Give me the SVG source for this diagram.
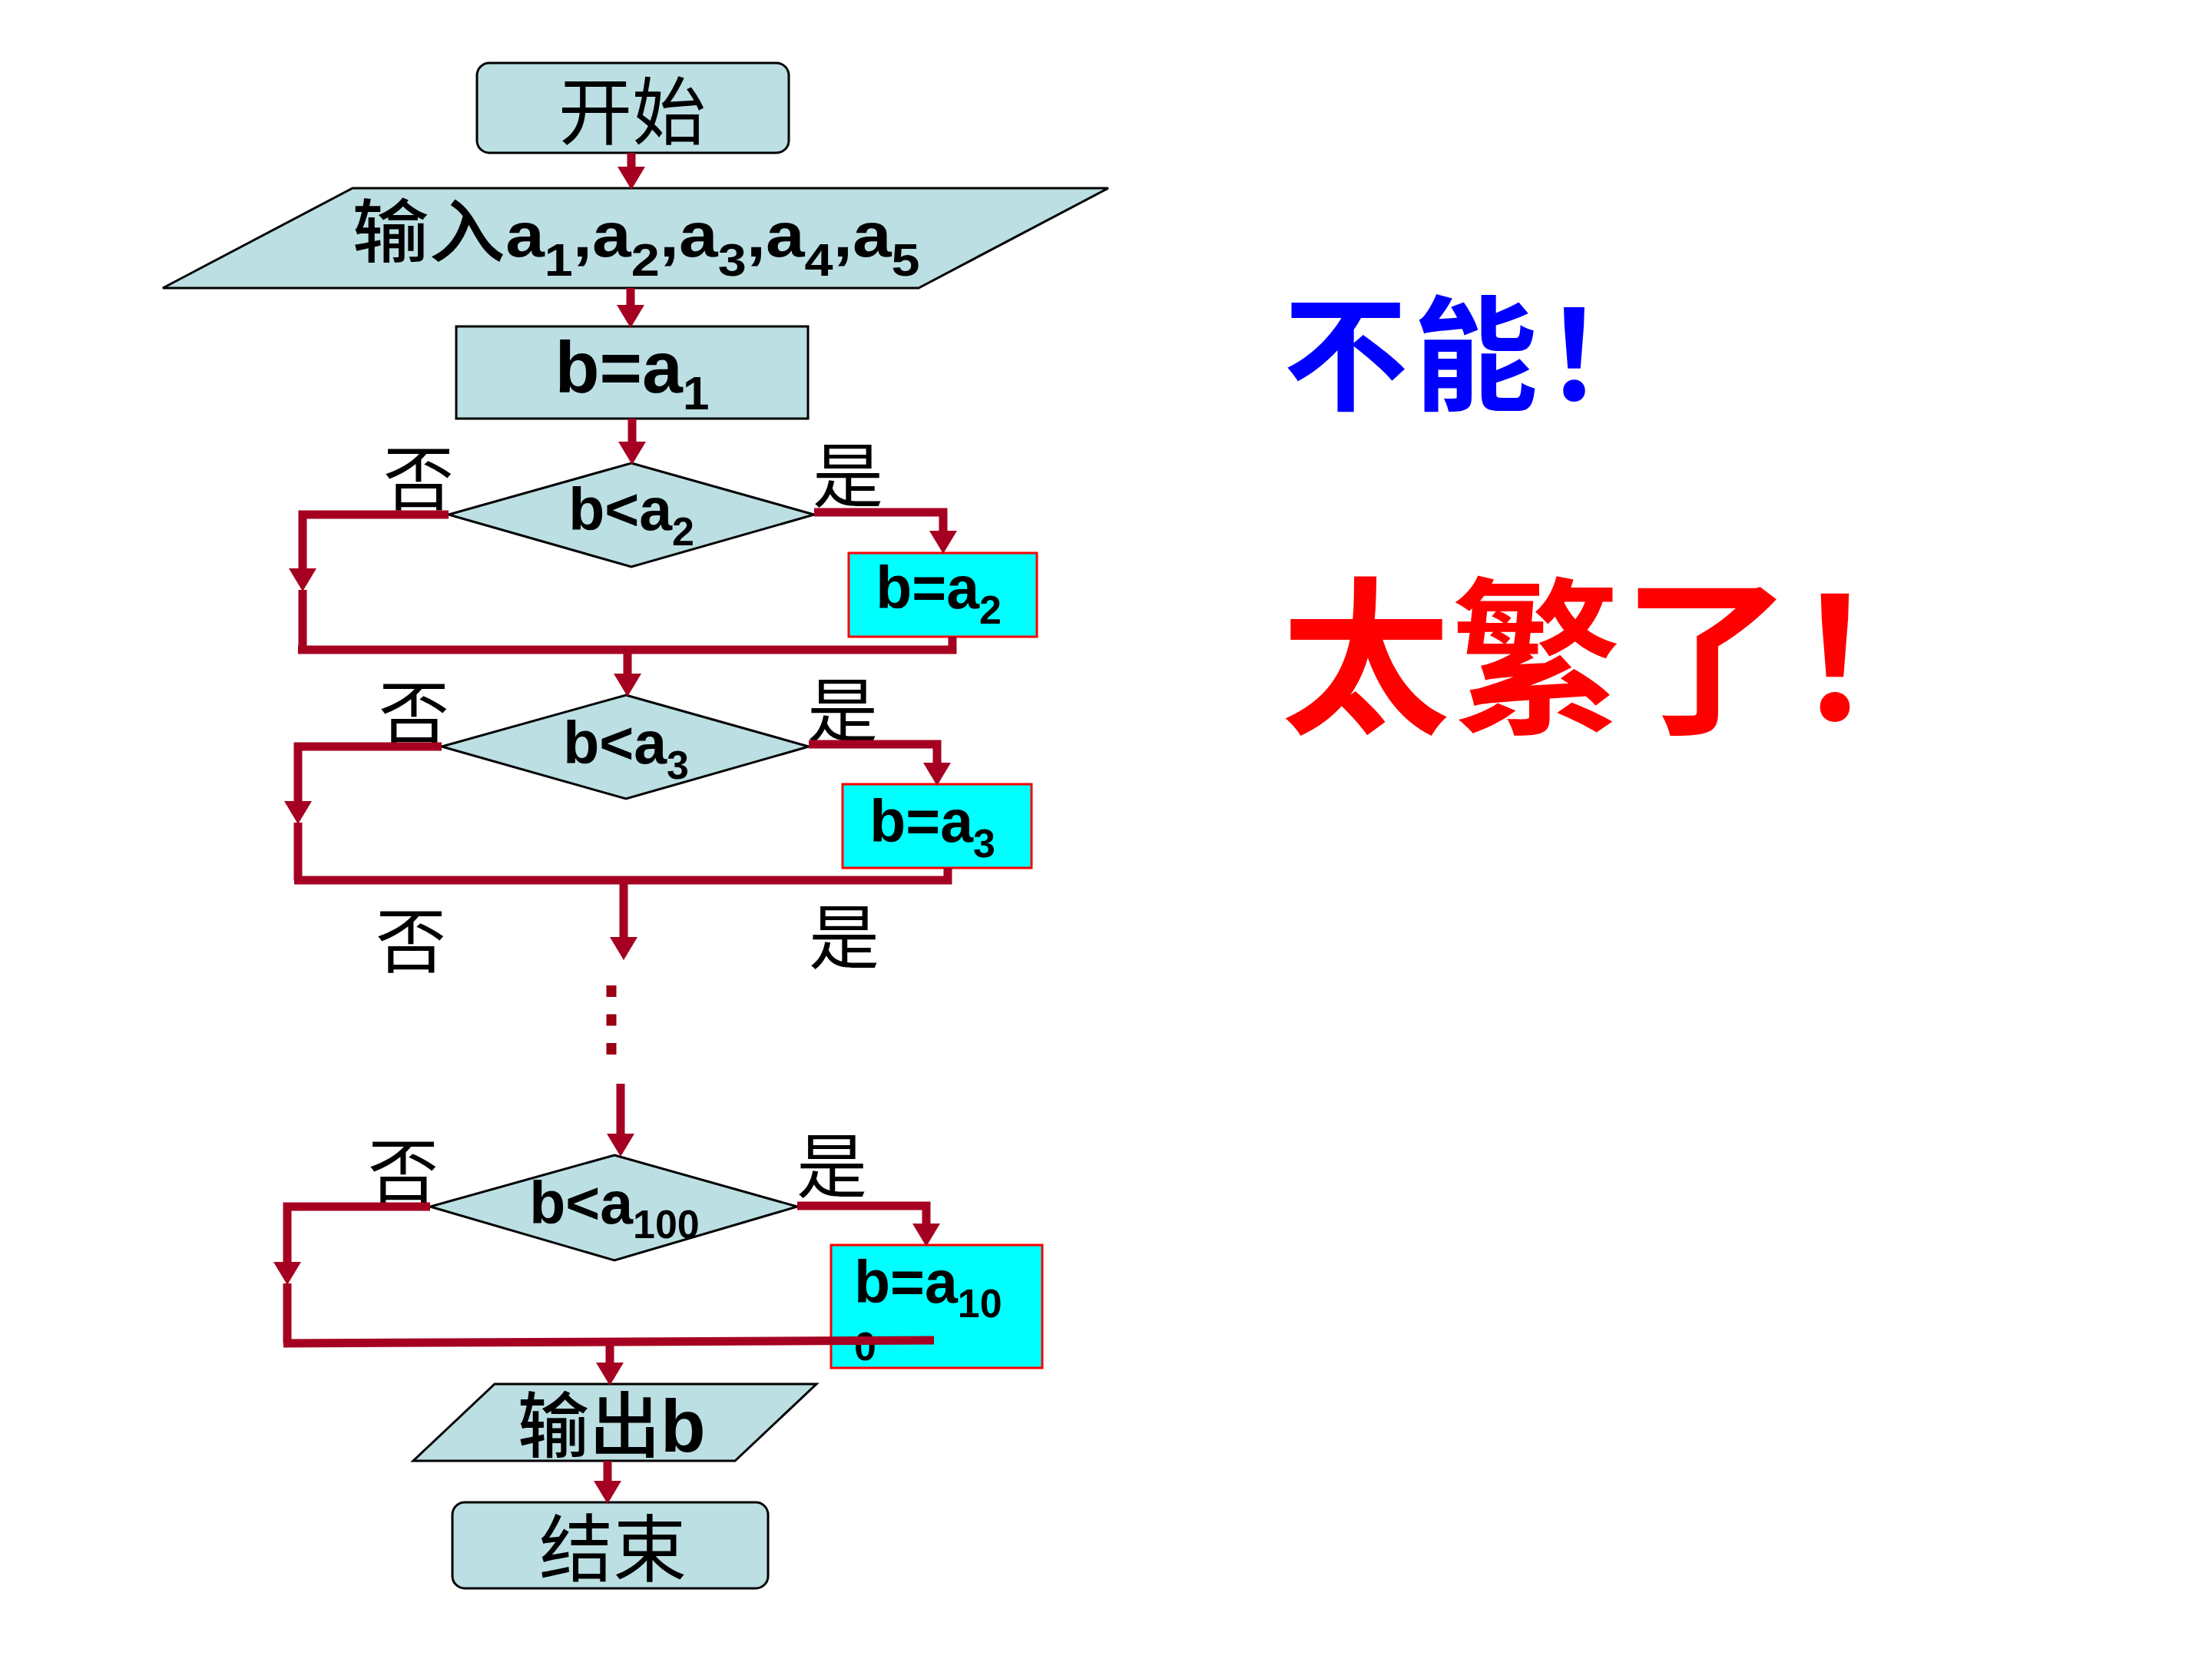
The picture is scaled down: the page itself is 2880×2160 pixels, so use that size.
<svg xmlns="http://www.w3.org/2000/svg" width="2880" height="2160" viewBox="0 0 2880 2160">
<defs>
<marker id="ah" markerUnits="userSpaceOnUse" markerWidth="30" markerHeight="36" viewBox="0 0 30 36" refX="0" refY="18" orient="auto"><path d="M0,0 L30,18 L0,36 Z" fill="#A50021"/></marker>
<style>
.nd{fill:#BBDFE3;stroke:#000;stroke-width:3}
.cy{fill:#00FFFF;stroke:#FF0000;stroke-width:3}
.cn{fill:none;stroke:#A50021;stroke-width:11;stroke-linejoin:miter}
.ar{marker-end:url(#ah)}
.lt{font-family:"Liberation Sans",Arial,sans-serif;font-weight:bold;fill:#000}
.zh{font-family:"Noto Sans CJK SC",sans-serif;fill:#000}
.lb{font-family:"Noto Sans CJK SC",sans-serif;font-size:92px;fill:#000;text-anchor:middle}
.dt{font-size:77px;text-anchor:middle}
.sb{font-size:52px}
</style>
</defs>
<rect width="2880" height="2160" fill="#fff"/>

<g id="start">
<rect class="nd" x="621" y="82" width="406" height="117" rx="16"/>
<text class="zh" x="823" y="180" font-size="96" text-anchor="middle">开始</text>
</g>

<g id="input">
<polygon class="nd" points="459,245 1443,245 1196,375 212,375"/>
<text class="lt" x="828" y="334" font-size="82" text-anchor="middle" transform="translate(828 0) scale(1.11 1) translate(-828 0)"><tspan class="zh" font-size="90" font-weight="500">输入</tspan>a<tspan font-size="60" dy="25">1</tspan><tspan dy="-25">,a</tspan><tspan font-size="60" dy="25">2</tspan><tspan dy="-25">,a</tspan><tspan font-size="60" dy="25">3</tspan><tspan dy="-25">,a</tspan><tspan font-size="60" dy="25">4</tspan><tspan dy="-25">,a</tspan><tspan font-size="60" dy="25">5</tspan></text>
</g>

<g id="assign1">
<rect class="nd" x="594" y="425" width="458" height="120"/>
<text class="lt" x="823" y="511" font-size="95" text-anchor="middle">b=a<tspan font-size="62" dy="22">1</tspan></text>
</g>

<g id="cond2">
<polygon class="nd" points="822,603 1060,670 822,738 584,670"/>
<text class="lt dt" x="822" y="690">b&lt;a<tspan class="sb" dy="20">2</tspan></text>
</g>

<g id="assign2">
<rect class="cy" x="1105" y="720" width="245" height="109"/>
<text class="lt dt" x="1222" y="792">b=a<tspan class="sb" dy="20">2</tspan></text>
</g>

<g id="cond3">
<polygon class="nd" points="815,905 1053,972 815,1040 575,972"/>
<text class="lt dt" x="815" y="994">b&lt;a<tspan class="sb" dy="20">3</tspan></text>
</g>

<g id="assign3">
<rect class="cy" x="1097" y="1021" width="246" height="109"/>
<text class="lt dt" x="1214" y="1096">b=a<tspan class="sb" dy="20">3</tspan></text>
</g>

<g id="cond100">
<polygon class="nd" points="800,1504 1038,1571 800,1641 560,1571"/>
<text class="lt dt" x="800" y="1593">b&lt;a<tspan class="sb" dy="19">100</tspan></text>
</g>

<g id="assign100">
<rect class="cy" x="1082" y="1621" width="275" height="160"/>
<text class="lt" x="1112" y="1696" font-size="77">b=a<tspan class="sb" dy="19">10</tspan></text>
<text class="lt sb" x="1112" y="1771">0</text>
</g>

<g id="output">
<polygon class="nd" points="644,1802 1063,1802 957,1902 538,1902"/>
<text class="lt" x="674" y="1890" font-size="96"><tspan class="zh" font-size="93" font-weight="500">输出</tspan>b</text>
</g>

<g id="end">
<rect class="nd" x="589" y="1956" width="411" height="112" rx="16"/>
<text class="zh" x="798" y="2051" font-size="96" text-anchor="middle">结束</text>
</g>

<g id="labels">
<text class="lb" x="545" y="657">否</text>
<text class="lb" x="1104" y="653">是</text>
<text class="lb" x="539" y="963">否</text>
<text class="lb" x="1097" y="959">是</text>
<text class="lb" x="535" y="1259">否</text>
<text class="lb" x="1099" y="1254">是</text>
<text class="lb" x="525" y="1559">否</text>
<text class="lb" x="1083" y="1552">是</text>
</g>

<g id="connectors">
<path class="cn ar" d="M822,199 V217"/>
<path class="cn ar" d="M821,375 V397"/>
<path class="cn ar" d="M823,545 V575"/>
<path class="cn ar" d="M584,670 H394 V740"/>
<path class="cn" d="M394,768 V846"/>
<path class="cn ar" d="M1060,667 H1228 V691"/>
<path class="cn" d="M1240,829 V846 H388"/>
<path class="cn ar" d="M817,846 V877"/>
<path class="cn ar" d="M575,972 H388 V1043"/>
<path class="cn" d="M388,1071 V1146"/>
<path class="cn ar" d="M1053,969 H1220 V993"/>
<path class="cn" d="M1234,1130 V1146 H383"/>
<path class="cn ar" d="M812,1146 V1220"/>
<path d="M796,1283 V1373" fill="none" stroke="#990012" stroke-width="13" stroke-dasharray="15 22.5"/>
<path class="cn ar" d="M808,1411 V1476"/>
<path class="cn ar" d="M560,1571 H374 V1643"/>
<path class="cn" d="M374,1671 V1749"/>
<path class="cn ar" d="M1038,1570 H1206 V1593"/>
<path class="cn" d="M369,1749 L1216,1745"/>
<path class="cn ar" d="M794,1747 V1774"/>
<path class="cn ar" d="M791,1902 V1928"/>
</g>

<g id="remarks">
<text x="1671" y="522" font-family="Noto Sans CJK SC, sans-serif" font-weight="bold" font-size="162" letter-spacing="7" fill="#0000FF">不能！</text>
<text x="1668" y="938" font-family="Noto Sans CJK SC, sans-serif" font-weight="bold" font-size="220" letter-spacing="2" fill="#FF0000">太繁了！</text>
</g>
</svg>
